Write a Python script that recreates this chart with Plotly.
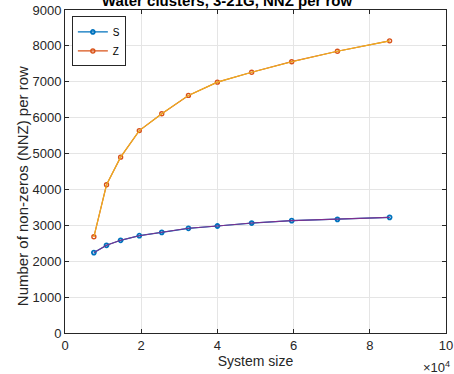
import plotly.graph_objects as go

system_size = [7580, 10900, 14600, 19500, 25400, 32400, 40000, 49000, 59500, 71500, 85200]
s_nnz = [2240, 2444, 2583, 2711, 2805, 2917, 2981, 3064, 3130, 3167, 3222]
z_nnz = [2680, 4130, 4900, 5640, 6110, 6620, 6990, 7265, 7560, 7850, 8140]

x_tickvals = [0, 20000, 40000, 60000, 80000, 100000]
x_ticktext = ["0", "2", "4", "6", "8", "10"]
y_tickvals = [0, 1000, 2000, 3000, 4000, 5000, 6000, 7000, 8000, 9000]

blue = "#0072BD"
orange = "#D95319"
purple = "#7E2F8E"
yellow = "#EDB120"
axc = "#262626"
font = "Liberation Sans, Arial, sans-serif"

fig = go.Figure()
fig.add_trace(go.Scatter(x=system_size, y=s_nnz, name="S", mode="lines+markers",
                         line=dict(color=blue, width=1.2),
                         marker=dict(symbol="circle-open", size=4, color=blue, line=dict(width=1.8))))
fig.add_trace(go.Scatter(x=system_size, y=z_nnz, name="Z", mode="lines+markers",
                         line=dict(color=orange, width=1.2),
                         marker=dict(symbol="circle-open", size=4, color=orange, line=dict(width=1.4))))
fig.add_trace(go.Scatter(x=system_size, y=s_nnz, mode="lines", showlegend=False,
                         line=dict(color=purple, width=1.1), hoverinfo="skip"))
fig.add_trace(go.Scatter(x=system_size, y=z_nnz, mode="lines", showlegend=False,
                         line=dict(color=yellow, width=1.1), hoverinfo="skip"))

axis_common = dict(showline=True, linecolor=axc, linewidth=1, mirror="ticks",
                   ticks="inside", ticklen=4, tickcolor=axc, tickwidth=1,
                   showgrid=True, gridcolor="#e5e5e5", gridwidth=1, zeroline=False,
                   automargin=False,
                   tickfont=dict(family=font, size=13, color=axc))

fig.update_layout(
    width=454, height=374,
    margin=dict(l=65, r=8, t=10, b=41, autoexpand=False),
    paper_bgcolor="white", plot_bgcolor="white",
    font=dict(family=font, color=axc),
    title=dict(text="<b>Water clusters, 3-21G, NNZ per row</b>", x=0.5, xanchor="center",
               y=1 - 1.0 / 374, yref="container", yanchor="middle", automargin=False,
               font=dict(family=font, size=15, color="#000000")),
    xaxis=dict(range=[0, 100000], tickvals=x_tickvals, ticktext=x_ticktext,
               title=dict(text="System size", font=dict(family=font, size=14, color=axc), standoff=2),
               **axis_common),
    yaxis=dict(range=[0, 9000], tickvals=y_tickvals, **axis_common),
    legend=dict(x=0.018, y=0.98, xanchor="left", yanchor="top",
                bgcolor="white", bordercolor=axc, borderwidth=1,
                font=dict(family=font, size=10, color="#000000"),
                itemwidth=30, tracegroupgap=0),
    showlegend=True,
)

fig.add_annotation(text="Number of non-zeros (NNZ) per row", xref="paper", yref="paper",
                   x=-0.113, y=0.4544, xanchor="center", yanchor="middle", textangle=-90,
                   showarrow=False, font=dict(family=font, size=15, color=axc))

fig.add_annotation(text="×10<sup>4</sup>", xref="paper", yref="paper", x=1.016, y=-0.105,
                   xanchor="right", yanchor="middle", showarrow=False,
                   font=dict(family=font, size=13, color=axc))

fig.write_html("out.html", config={"displayModeBar": False},
               post_script="document.body.style.margin='0';")
